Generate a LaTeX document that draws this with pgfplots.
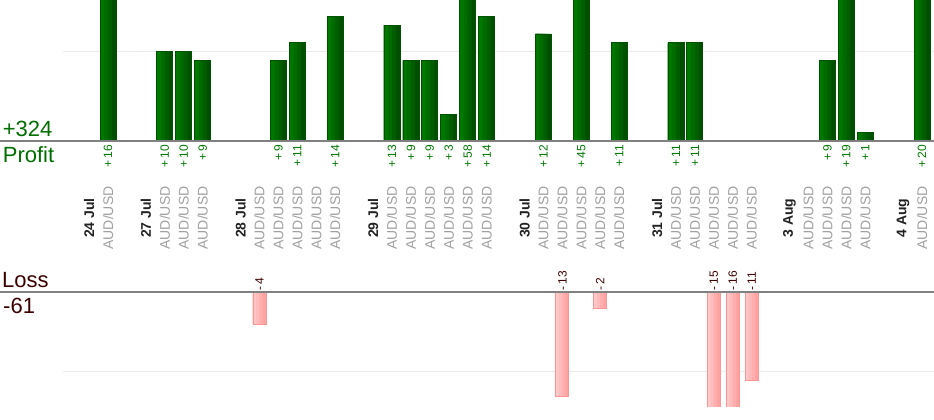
\documentclass[border=0pt]{standalone}
\usepackage{pgfplots}
\pgfplotsset{compat=1.18}
\usepackage{pgfplotstable}
\usepackage{fontspec}
\setmainfont{Liberation Sans}
\definecolor{profgreen}{HTML}{006E00}
\definecolor{labgreen}{HTML}{007A00}
\definecolor{gA}{HTML}{007800}
\definecolor{gB}{HTML}{006C00}
\definecolor{gC}{HTML}{005E00}
\definecolor{gD}{HTML}{004E00}
\definecolor{barGedge}{HTML}{005200}
\definecolor{lossred}{HTML}{3D0000}
\definecolor{rA}{HTML}{FFC8C8}
\definecolor{rB}{HTML}{FFBBBB}
\definecolor{rC}{HTML}{FFAEAE}
\definecolor{rD}{HTML}{FFA2A2}
\definecolor{barRedge}{HTML}{FF9494}
\definecolor{audgray}{HTML}{A0A0A0}
\definecolor{dategray}{HTML}{222222}
\definecolor{gridc}{HTML}{EBEBEB}
\definecolor{basec}{HTML}{808080}

\pgfplotstableread{
x v
2 16
5 10
6 10
7 9
11 9
12 11
14 14
17 13
18 9
19 9
20 3
21 58
22 14
25 12
27 45
29 11
32 11
33 11
40 9
41 19
42 1
45 20
}\profit

\pgfplotstableread{
x v a
10 -4 4
26 -13 13
28 -2 2
34 -15 15
35 -16 16
36 -11 11
}\loss

\newcommand\D[1]{\textcolor{dategray}{\bfseries #1}}
\newcommand\A{\textcolor{audgray}{AUD/USD}}

\begin{document}
\begin{tikzpicture}[x=1pt,y=1pt]
\path[use as bounding box] (0,0) rectangle (934,420);
\begin{axis}[
  at={(63pt,240pt)}, anchor=south west,
  scale only axis, width=871pt, height=180pt,
  xmin=-0.377, xmax=45.63, ymin=-4.372, ymax=15.807,
  axis line style={draw=none}, major tick length=0pt,
  ytick={10}, yticklabels={}, ymajorgrids, grid style={gridc, line width=1pt},
  xtick={1,2,4,5,6,7,9,10,11,12,13,14,16,17,18,19,20,21,22,24,25,26,27,28,29,31,32,33,34,35,36,38,39,40,41,42,44,45},
  xticklabels={\D{24 Jul},\A,\D{27 Jul},\A,\A,\A,\D{28 Jul},\A,\A,\A,\A,\A,\D{29 Jul},\A,\A,\A,\A,\A,\A,\D{30 Jul},\A,\A,\A,\A,\A,\D{31 Jul},\A,\A,\A,\A,\A,\D{3 Aug},\A,\A,\A,\A,\D{4 Aug},\A},
  xticklabel style={rotate=90, anchor=center, font=\fontsize{14}{16}\selectfont},
  xticklabel shift=38pt,
]
\addplot[ybar, bar width=16pt, bar shift=0pt, draw=none, fill=gD] table[x=x,y=v] \profit;
\addplot[ybar, bar width=12pt, bar shift=-2pt, draw=none, fill=gC] table[x=x,y=v] \profit;
\addplot[ybar, bar width=8pt, bar shift=-4pt, draw=none, fill=gB] table[x=x,y=v] \profit;
\addplot[ybar, bar width=4pt, bar shift=-6pt, draw=none, fill=gA] table[x=x,y=v] \profit;
\addplot[ybar, bar width=16pt, bar shift=0pt, draw=barGedge, fill=none, line width=0.8pt] table[x=x,y=v] \profit;
\addplot[only marks, mark=none, point meta=explicit symbolic,
  nodes near coords={+\,\pgfplotspointmeta},
  nodes near coords style={rotate=90, anchor=east, inner sep=0pt, text=labgreen, font=\fontsize{12}{14}\selectfont}]
  table[x=x, y expr=-0.45, meta=v] \profit;
\end{axis}
\begin{axis}[
  at={(63pt,13pt)}, anchor=south west,
  scale only axis, width=871pt, height=147pt,
  xmin=-0.377, xmax=45.63, ymin=-14.375, ymax=4,
  axis line style={draw=none}, major tick length=0pt,
  ytick={-10}, yticklabels={}, ymajorgrids, grid style={gridc, line width=1pt},
  xtick=\empty,
]
\addplot[ybar, bar width=13pt, bar shift=0pt, draw=none, fill=rD] table[x=x,y=v] \loss;
\addplot[ybar, bar width=9.75pt, bar shift=-1.625pt, draw=none, fill=rC] table[x=x,y=v] \loss;
\addplot[ybar, bar width=6.5pt, bar shift=-3.25pt, draw=none, fill=rB] table[x=x,y=v] \loss;
\addplot[ybar, bar width=3.25pt, bar shift=-4.875pt, draw=none, fill=rA] table[x=x,y=v] \loss;
\addplot[ybar, bar width=13pt, bar shift=0pt, draw=barRedge, fill=none, line width=0.8pt] table[x=x,y=v] \loss;
\addplot[only marks, mark=none, point meta=explicit symbolic,
  nodes near coords={-\,\pgfplotspointmeta},
  nodes near coords style={rotate=90, anchor=west, inner sep=0pt, text=lossred, font=\fontsize{12}{14}\selectfont}]
  table[x=x, y expr=0.17, meta=a] \loss;
\end{axis}
\draw[basec, line width=1.3pt] (0,279) -- (934,279);
\draw[basec, line width=1.3pt] (0,128) -- (934,128);
\node[anchor=base west, inner sep=0pt, text=profgreen, font=\fontsize{22}{24}\selectfont] at (2.7,283.3) {+324};
\node[anchor=base west, inner sep=0pt, text=profgreen, font=\fontsize{22}{24}\selectfont] at (2.7,257.3) {Profit};
\node[anchor=base west, inner sep=0pt, text=lossred, font=\fontsize{22}{24}\selectfont] at (2,132.7) {Loss};
\node[anchor=base west, inner sep=0pt, text=lossred, font=\fontsize{22}{24}\selectfont] at (3,106) {-61};
\end{tikzpicture}
\end{document}
